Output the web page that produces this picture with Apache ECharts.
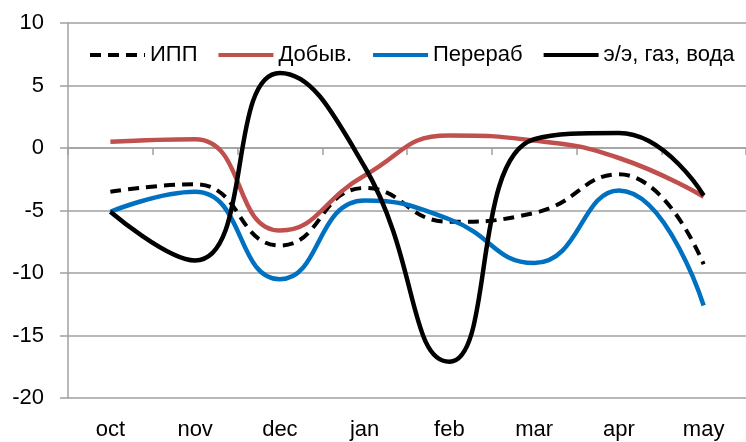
<!DOCTYPE html>
<html>
<head>
<meta charset="utf-8">
<script src="https://cdn.jsdelivr.net/npm/echarts@6/dist/echarts.min.js"></script>
<style>
html,body{margin:0;padding:0;background:#fff;}
#c{width:746px;height:442px;}
</style>
</head>
<body>
<div id="c"></div>
<script>
var categories = ['oct', 'nov', 'dec', 'jan', 'feb', 'mar', 'apr', 'may'];
var seriesNames = ['ИПП', 'Добыв.', 'Перераб', 'э/э, газ, вода'];
var ipp = [-3.5, -2.9, -7.8, -3.2, -5.9, -5.2, -2.1, -9.3];
var dobyv = [0.5, 0.7, -6.6, -2.2, 1.0, 0.6, -0.8, -3.9];
var pererab = [-5.1, -3.5, -10.5, -4.2, -5.7, -9.2, -3.4, -12.6];
var energy = [-5.1, -9.0, 6.0, -1.5, -17.1, 0.7, 1.2, -3.8];
var yTicks = { min: -20, max: 10, interval: 5 };

var FONT = 'Liberation Sans';
var chart = echarts.init(document.getElementById('c'), null, { renderer: 'canvas' });

function mk(name, data, color, width, type) {
  return {
    name: name, type: 'line', data: data, xAxisIndex: 0,
    smooth: 0.5, symbol: 'none', showSymbol: false,
    lineStyle: { color: color, width: width, type: type },
    itemStyle: { color: color },
    z: 3
  };
}

chart.setOption({
  animation: false,
  backgroundColor: '#fff',
  grid: { left: 68, right: -8, top: 23, bottom: 44, containLabel: false },
  legend: {
    left: 83, top: 39, width: 700, padding: 5,
    itemWidth: 55, itemHeight: 14, itemGap: 19,
    itemStyle: { opacity: 0 },
    lineStyle: { width: 4 },
    textStyle: { fontFamily: FONT, fontSize: 22, color: '#000' },
    data: seriesNames
  },
  xAxis: [
    {
      type: 'category', data: categories, boundaryGap: true,
      axisLine: { onZero: true, lineStyle: { color: '#a0a0a0', width: 1.5 } },
      axisTick: { show: true, length: 7, lineStyle: { color: '#a0a0a0', width: 1.5 } },
      axisLabel: { show: false },
      splitLine: { show: false }
    },
    {
      type: 'category', data: categories, boundaryGap: true, position: 'bottom',
      axisLine: { show: false, onZero: false },
      axisTick: { show: false },
      axisLabel: { show: true, fontFamily: FONT, fontSize: 22, color: '#000', margin: 21 },
      splitLine: { show: false }
    }
  ],
  yAxis: {
    type: 'value', min: yTicks.min, max: yTicks.max, interval: yTicks.interval,
    axisLine: { show: true, lineStyle: { color: '#a0a0a0', width: 1.5 } },
    axisTick: { show: true, length: 8, lineStyle: { color: '#a0a0a0', width: 1.5 } },
    axisLabel: { fontFamily: FONT, fontSize: 22, color: '#000', margin: 24 },
    splitLine: { show: true, lineStyle: { color: '#a0a0a0', width: 1.5 } }
  },
  series: [
    mk(seriesNames[0], ipp, '#000000', 4, [11, 7]),
    mk(seriesNames[1], dobyv, '#c0504d', 4.5, 'solid'),
    mk(seriesNames[2], pererab, '#0070c0', 4.5, 'solid'),
    mk(seriesNames[3], energy, '#000000', 4.5, 'solid')
  ]
});
</script>
</body>
</html>
